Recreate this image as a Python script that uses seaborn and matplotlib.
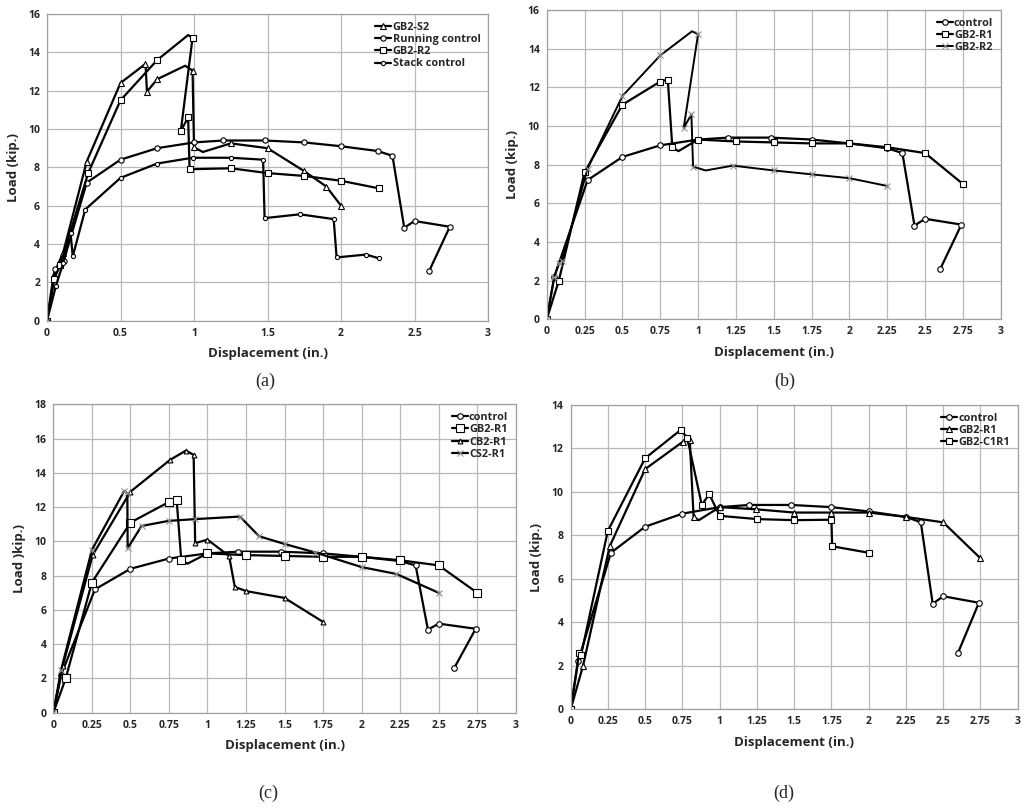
import matplotlib
matplotlib.use("Agg")
import matplotlib.pyplot as plt
import seaborn as sns
import pandas as pd
from matplotlib.ticker import FuncFormatter, MultipleLocator

# ---- data (displacement in., load kip.) ----
# shared control curve (b, c, d) / "Running control" in (a)
control_x = [0, 0.05, 0.27, 0.5, 0.75, 1.0, 1.2, 1.48, 1.75, 2.0, 2.25, 2.35, 2.43, 2.5, 2.74, 2.6]
control_y = [0, 2.2, 7.2, 8.4, 9.0, 9.3, 9.4, 9.4, 9.3, 9.1, 8.85, 8.6, 4.85, 5.2, 4.9, 2.6]

# panel (a)
a_s2_x = [0, 0.045, 0.11, 0.27, 0.5, 0.67, 0.68, 0.75, 0.94, 0.99, 1.0, 1.06, 1.25, 1.5, 1.75, 1.9, 2.0]
a_s2_y = [0, 2.4, 3.55, 8.3, 12.4, 13.4, 11.95, 12.6, 13.3, 13.05, 9.05, 8.8, 9.25, 9.0, 7.8, 7.0, 6.0]
a_s2_plain = [8, 11]          # points on the curve without a marker
a_run_x = [0, 0.057, 0.113, 0.27, 0.5, 0.75, 1.0, 1.2, 1.48, 1.75, 2.0, 2.25, 2.35, 2.43, 2.5, 2.74, 2.6]
a_run_y = [0, 2.7, 3.1, 7.2, 8.4, 9.0, 9.3, 9.4, 9.4, 9.3, 9.1, 8.85, 8.6, 4.85, 5.2, 4.9, 2.6]
a_r2_x = [0, 0.05, 0.09, 0.28, 0.5, 0.75, 0.96, 0.99, 0.91, 0.96, 0.97, 1.25, 1.5, 1.75, 2.0, 2.26]
a_r2_y = [0, 2.2, 2.9, 7.7, 11.5, 13.6, 14.9, 14.75, 9.9, 10.6, 7.9, 7.95, 7.7, 7.55, 7.3, 6.9]
a_r2_plain = [6]
a_stack_x = [0, 0.06, 0.11, 0.16, 0.175, 0.26, 0.5, 0.75, 0.99, 1.25, 1.47, 1.48, 1.72, 1.95, 1.97, 2.17, 2.26]
a_stack_y = [0, 1.8, 3.0, 4.6, 3.35, 5.8, 7.45, 8.2, 8.5, 8.5, 8.4, 5.35, 5.55, 5.3, 3.3, 3.45, 3.25]

# GB2-R1 (b, c)
r1_x = [0, 0.08, 0.25, 0.5, 0.75, 0.8, 0.83, 0.87, 1.0, 1.25, 1.5, 1.75, 2.0, 2.25, 2.5, 2.75]
r1_y = [0, 2.0, 7.6, 11.1, 12.3, 12.4, 8.9, 8.7, 9.3, 9.2, 9.15, 9.1, 9.1, 8.9, 8.6, 7.0]
r1_plain = [7]

# GB2-R2 (b)
b_r2_x = [0, 0.05, 0.08, 0.1, 0.27, 0.5, 0.75, 0.96, 1.0, 0.905, 0.956, 0.967, 1.05, 1.23, 1.5, 1.75, 2.0, 2.25]
b_r2_y = [0, 2.2, 2.9, 3.0, 7.8, 11.55, 13.65, 14.9, 14.75, 9.9, 10.6, 7.9, 7.7, 7.95, 7.7, 7.5, 7.3, 6.9]
b_r2_plain = [7, 12]

# panel (c)
c_cb2_x = [0, 0.06, 0.255, 0.5, 0.756, 0.86, 0.91, 0.92, 1.0, 1.14, 1.177, 1.25, 1.5, 1.75]
c_cb2_y = [0, 2.7, 9.2, 12.9, 14.75, 15.3, 15.05, 9.9, 10.1, 9.15, 7.35, 7.1, 6.7, 5.3]
c_cs2_x = [0, 0.05, 0.25, 0.46, 0.48, 0.482, 0.572, 0.75, 0.92, 1.21, 1.335, 1.5, 1.7, 2.0, 2.225, 2.5]
c_cs2_y = [0, 2.5, 9.5, 12.95, 12.8, 9.6, 10.9, 11.2, 11.3, 11.45, 10.3, 9.85, 9.35, 8.5, 8.1, 7.0]

# panel (d)
d_r1_x = [0, 0.083, 0.262, 0.5, 0.751, 0.799, 0.825, 0.86, 1.0, 1.245, 1.5, 1.75, 2.0, 2.25, 2.5, 2.75]
d_r1_y = [0, 2.0, 7.5, 11.05, 12.3, 12.4, 8.85, 8.7, 9.3, 9.2, 9.05, 9.05, 9.05, 8.85, 8.6, 6.95]
d_r1_plain = [7]
d_c1r1_x = [0, 0.057, 0.07, 0.249, 0.5, 0.738, 0.782, 0.88, 0.93, 1.0, 1.25, 1.5, 1.75, 1.755, 2.0]
d_c1r1_y = [0, 2.6, 2.5, 8.2, 11.55, 12.85, 12.5, 9.4, 9.9, 8.9, 8.75, 8.7, 8.72, 7.5, 7.2]

sns.set_theme(style="white")
plt.rcParams['font.family'] = ['Open Sans', 'DejaVu Sans']

fig = plt.figure(figsize=(10.24, 8.08), dpi=100)

GRID = '#b8b8b8'


def draw_series(ax, xs, ys, label, marker, ms=4.0, mec='black', lw=1.6, plain=()):
    df = pd.DataFrame({'x': xs, 'y': ys})
    marked = [i for i in range(len(xs)) if i not in plain]
    sns.lineplot(data=df, x='x', y='y', sort=False, estimator=None, ax=ax,
                 color='black', linewidth=lw, marker=marker, markersize=ms,
                 markerfacecolor='white', markeredgecolor=mec,
                 markeredgewidth=0.8, markevery=marked, label=label)


def style_axes(ax, ymax, xstep, ylabel='Load (kip.)'):
    ax.set_xlim(0, 3)
    ax.set_ylim(0, ymax)
    ax.xaxis.set_major_locator(MultipleLocator(xstep))
    ax.yaxis.set_major_locator(MultipleLocator(2))
    fmt = FuncFormatter(lambda v, p: '{:g}'.format(v))
    ax.xaxis.set_major_formatter(fmt)
    ax.yaxis.set_major_formatter(fmt)
    ax.grid(True, color=GRID, linewidth=0.9)
    ax.set_axisbelow(True)
    for s in ax.spines.values():
        s.set_color('#a0a0a0')
        s.set_linewidth(0.9)
    ax.tick_params(length=0, labelsize=7.5, pad=5)
    for t in ax.get_xticklabels() + ax.get_yticklabels():
        t.set_fontweight('bold')
    ax.set_xlabel('Displacement (in.)', fontsize=9.5, fontweight='bold', labelpad=6)
    ax.set_ylabel(ylabel, fontsize=9.5, fontweight='bold', labelpad=6)
    ax.legend(loc='upper right', frameon=False, handlelength=1.5,
              handletextpad=0.1, labelspacing=0.12, borderaxespad=0.3,
              prop={'weight': 'bold', 'size': 7.8})


# (a)
ax_a = fig.add_axes([0.0459, 0.6031, 0.4307, 0.3796])
draw_series(ax_a, a_s2_x, a_s2_y, 'GB2-S2', '^', ms=4, plain=a_s2_plain)
draw_series(ax_a, a_run_x, a_run_y, 'Running control', 'o', ms=3.8)
draw_series(ax_a, a_r2_x, a_r2_y, 'GB2-R2', 's', ms=4.5, plain=a_r2_plain)
draw_series(ax_a, a_stack_x, a_stack_y, 'Stack control', 'o', ms=3.0)
style_axes(ax_a, 16, 0.5)

# (b)
ax_b = fig.add_axes([0.5339, 0.6048, 0.4434, 0.3828])
draw_series(ax_b, control_x, control_y, 'control', 'o', ms=4)
draw_series(ax_b, r1_x, r1_y, 'GB2-R1', 's', ms=5, plain=r1_plain)
draw_series(ax_b, b_r2_x, b_r2_y, 'GB2-R2', 'x', ms=5, mec='#909090', lw=1.4, plain=b_r2_plain)
style_axes(ax_b, 16, 0.25)

# (c)
ax_c = fig.add_axes([0.0521, 0.1179, 0.4516, 0.3817])
draw_series(ax_c, control_x, control_y, 'control', 'o', ms=4)
draw_series(ax_c, r1_x, r1_y, 'GB2-R1', 's', ms=6, plain=r1_plain)
draw_series(ax_c, c_cb2_x, c_cb2_y, 'CB2-R1', '^', ms=3.5)
draw_series(ax_c, c_cs2_x, c_cs2_y, 'CS2-R1', 'x', ms=4, mec='#909090')
style_axes(ax_c, 18, 0.25, ylabel='Load )kip.)')

# (d)
ax_d = fig.add_axes([0.5573, 0.1222, 0.4365, 0.3766])
draw_series(ax_d, control_x, control_y, 'control', 'o', ms=4)
draw_series(ax_d, d_r1_x, d_r1_y, 'GB2-R1', '^', ms=4, plain=d_r1_plain)
draw_series(ax_d, d_c1r1_x, d_c1r1_y, 'GB2-C1R1', 's', ms=4.5)
style_axes(ax_d, 14, 0.25)

for lab, x, y in [('(a)', 0.2588, 0.5285), ('(b)', 0.7666, 0.5285),
                  ('(c)', 0.2617, 0.0186), ('(d)', 0.7656, 0.0186)]:
    fig.text(x, y, lab, ha='center', va='center', fontsize=13,
             family='Liberation Serif')

fig.savefig('out.png', dpi=100)
